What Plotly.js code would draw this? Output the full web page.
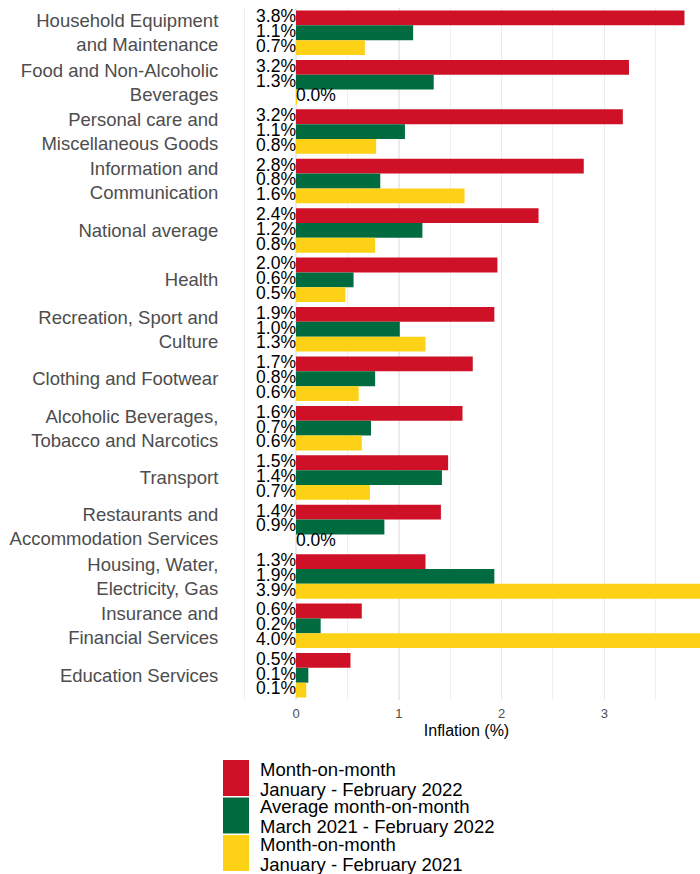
<!DOCTYPE html>
<html>
<head>
<meta charset="utf-8">
<script src="https://cdn.plot.ly/plotly-3.0.1.min.js"></script>
<style>html,body{margin:0;padding:0;background:#fff;}#chart{width:700px;height:874px;}</style>
</head>
<body>
<div id="chart"></div>
<script>
const categories = [
  'Household Equipment<br>and Maintenance',
  'Food and Non-Alcoholic<br>Beverages',
  'Personal care and<br>Miscellaneous Goods',
  'Information and<br>Communication',
  'National average',
  'Health',
  'Recreation, Sport and<br>Culture',
  'Clothing and Footwear',
  'Alcoholic Beverages,<br>Tobacco and Narcotics',
  'Transport',
  'Restaurants and<br>Accommodation Services',
  'Housing, Water,<br>Electricity, Gas',
  'Insurance and<br>Financial Services',
  'Education Services'
];
const seriesNames = [
  'Month-on-month<br>January - February 2022',
  'Average month-on-month<br>March 2021 - February 2022',
  'Month-on-month<br>January - February 2021'
];
const seriesColors = ['#CE1126', '#006B3F', '#FCD116'];
const momJan2022 = [3.78, 3.24, 3.18, 2.80, 2.36, 1.96, 1.93, 1.72, 1.62, 1.48, 1.41, 1.26, 0.64, 0.53];
const avgMom2122 = [1.14, 1.34, 1.06, 0.82, 1.23, 0.56, 1.01, 0.77, 0.73, 1.42, 0.86, 1.93, 0.24, 0.12];
const momJan2021 = [0.67, 0.01, 0.78, 1.64, 0.77, 0.48, 1.26, 0.61, 0.64, 0.72, 0.00, 3.94, 4.00, 0.10];
const seriesValues = [momJan2022, avgMom2122, momJan2021];

// layout geometry (pixels)
const W = 700, H = 874;
const M = {l: 233, r: 0, t: 8, b: 174};
const PW = W - M.l - M.r, PH = H - M.t - M.b;
const pxX = px => (px - M.l) / PW;
const pxY = py => (M.t + PH - py) / PH;
const FONT = 'Liberation Sans, Arial, sans-serif';

const barW = 0.3;
const traces = [];
seriesValues.forEach((vals, j) => {
  const ys = vals.map((_, i) => i + (j - 1) * barW);
  traces.push({
    type: 'bar', orientation: 'h', name: seriesNames[j],
    x: vals, y: ys, width: barW,
    marker: {color: seriesColors[j], line: {width: 0}},
    hoverinfo: 'skip', showlegend: false
  });
});
seriesValues.forEach((vals, j) => {
  const ys = vals.map((_, i) => i + (j - 1) * barW);
  traces.push({
    type: 'scatter', mode: 'text',
    x: vals.map(() => 0), y: ys,
    text: vals.map(v => v.toFixed(1) + '%'),
    textposition: vals.map(v => Math.round(v * 10) === 0 ? 'middle right' : 'middle left'),
    textfont: {size: 17.5, color: '#000000', family: FONT},
    cliponaxis: false, hoverinfo: 'skip', showlegend: false
  });
});

const shapes = [];
const annotations = [];
const legTop = 760, legPitch = 37.5, boxH = 36;
seriesNames.forEach((nm, j) => {
  const top = legTop + j * legPitch;
  shapes.push({
    type: 'rect', xref: 'paper', yref: 'paper', layer: 'above',
    x0: pxX(223), x1: pxX(249), y0: pxY(top), y1: pxY(top + boxH),
    fillcolor: seriesColors[j], line: {width: 0}
  });
  nm.split('<br>').forEach((line, k) => {
    annotations.push({
      xref: 'paper', yref: 'paper', x: pxX(258), y: pxY(top + 9 + k * 20),
      xanchor: 'left', yanchor: 'middle', showarrow: false, text: line,
      font: {size: 18.5, color: '#000000', family: FONT}
    });
  });
});

const layout = {
  width: W, height: H, margin: M,
  paper_bgcolor: '#ffffff', plot_bgcolor: '#ffffff',
  font: {family: FONT},
  barmode: 'overlay', showlegend: false,
  xaxis: {
    range: [-0.613, 3.931], tick0: 0, dtick: 1,
    showgrid: true, gridcolor: '#ebebeb', gridwidth: 1.6,
    minor: {tick0: 0, dtick: 0.5, showgrid: true, gridcolor: '#ebebeb', gridwidth: 0.8},
    zeroline: false, showline: false,
    ticks: '', ticklabelstandoff: 4, tickfont: {size: 13, color: '#4d4d4d'},
    title: {text: 'Inflation (%)', font: {size: 16, color: '#000000'}, standoff: 4},
    fixedrange: true
  },
  yaxis: {
    range: [13.5, -0.5], tickvals: categories.map((_, i) => i), ticktext: categories,
    showgrid: false, zeroline: false, showline: false,
    ticks: 'outside', ticklen: 10, tickcolor: 'rgba(0,0,0,0)',
    tickfont: {size: 18.5, color: '#4d4d4d'},
    fixedrange: true
  },
  shapes: shapes, annotations: annotations
};

Plotly.newPlot('chart', traces, layout, {staticPlot: true, displayModeBar: false});
</script>
</body>
</html>
